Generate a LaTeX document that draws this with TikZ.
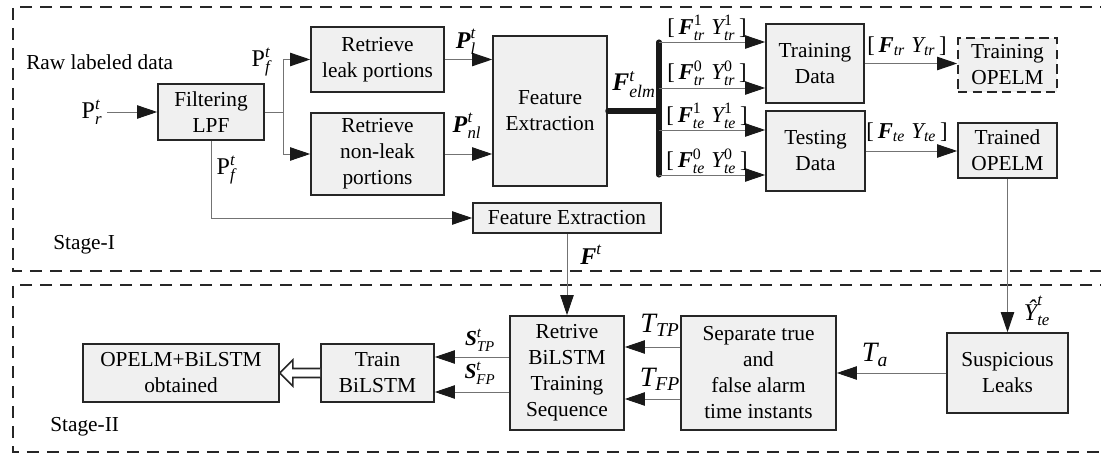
\documentclass[tikz,border=0pt]{standalone}
\usepackage{amsmath}
\usepackage{fontspec}
\setmainfont{Liberation Serif}
\usetikzlibrary{arrows.meta,calc}
\newcommand\ti[1]{\textit{#1}}
\newcommand\mb[1]{\textbf{\textit{#1}}}
\newcommand\fs{\fontsize{16}{19.5}\selectfont}
\newcommand\lfs{\fontsize{18}{20}\selectfont}
\newcommand\Lfs{\fontsize{21}{23}\selectfont}
\tikzset{
  box/.style={draw=black!85, line width=1.2pt, fill=black!6, align=center, inner sep=0pt, font=\fs},
  dbox/.style={box, dashed, dash pattern=on 7pt off 4pt},
  conn/.style={draw=black!55, line width=0.7pt},
  arr/.style={conn, -{Triangle[length=15pt,width=10pt,color=black!90]}},
  lab/.style={inner sep=0pt, font=\lfs},
  txt/.style={inner sep=0pt, font=\fs},
  stage/.style={draw=black!85, line width=1.1pt, dash pattern=on 9pt off 6pt},
}
\begin{document}
\begin{tikzpicture}[x=0.75pt,y=-0.75pt]
\useasboundingbox (0,0) rectangle (1101,456);
% stage frames
\draw[stage] (1112,7) -- (13,7) -- (13,271) -- (1112,271);
\draw[stage] (1112,285) -- (13,285) -- (13,452) -- (1112,452);
\node[txt, anchor=west] (raw) at (26,62) {Raw labeled data};
\node[txt, anchor=west] (s1) at (53,245) {Stage-I};
\node[txt, anchor=west] (s2) at (50,427) {Stage-II};
% boxes
\node[box, minimum width=79.5pt, minimum height=42pt] (lpf) at (211,112) {Filtering\\LPF};
\node[box, minimum width=99.75pt, minimum height=48.75pt] (leak) at (377.5,59.5) {Retrieve\\leak portions};
\node[box, minimum width=99.75pt, minimum height=61.5pt] (nonleak) at (377.5,154) {Retrieve\\non-leak\\portions};
\node[box, minimum width=85.5pt, minimum height=112.5pt] (fe) at (550,111) {Feature\\Extraction};
\node[box, minimum width=73.5pt, minimum height=59.25pt] (trd) at (815,63.5) {Training\\Data};
\node[box, minimum width=74.25pt, minimum height=60pt] (ted) at (815.5,151) {Testing\\Data};
\node[dbox, minimum width=74.25pt, minimum height=40.5pt] (topelm) at (1007.5,65) {Training\\OPELM};
\node[box, minimum width=74.25pt, minimum height=41.25pt] (tdopelm) at (1007.5,150.5) {Trained\\OPELM};
\node[box, minimum width=141pt, minimum height=22.5pt] (fe2) at (567,218) {Feature Extraction};
\node[box, minimum width=90.75pt, minimum height=60pt] (susp) at (1007.5,373) {Suspicious\\Leaks};
\node[box, minimum width=116.25pt, minimum height=85.5pt] (sep) at (758.5,373) {Separate true\\and\\false alarm\\time instants};
\node[box, minimum width=85.5pt, minimum height=85.5pt] (retr) at (567,373) {Retrive\\BiLSTM\\Training\\Sequence};
\node[box, minimum width=84.75pt, minimum height=43.5pt] (train) at (377.5,373) {Train\\BiLSTM};
\node[box, minimum width=147pt, minimum height=43.5pt] (final) at (181,373) {OPELM+BiLSTM\\obtained};
% connectors stage I
\coordinate (pin) at (107,112);
\draw[arr] (pin) -- (lpf.west);
\coordinate (j) at (283,112);
\draw[conn] (lpf.east) -- (j);
\draw[arr] (j) |- (leak.west);
\draw[arr] (j) |- (nonleak.west);
\draw[arr] (leak.east) -- (leak.east -| fe.west);
\draw[arr] (nonleak.east) -- (nonleak.east -| fe.west);
\draw[arr] (lpf.south) |- (fe2.west);
\coordinate (bus) at (659,111);
\coordinate (b1) at (659,42);
\coordinate (b2) at (659,88);
\coordinate (b3) at (659,130);
\coordinate (b4) at (659,175);
\draw[line width=3.8pt, black!90, line cap=round] (fe.east) -- (bus);
\draw[line width=3.8pt, black!90, line cap=round] (b1) -- (b4);
\draw[arr] (b1) -- (b1 -| trd.west);
\draw[arr] (b2) -- (b2 -| trd.west);
\draw[arr] (b3) -- (b3 -| ted.west);
\draw[arr] (b4) -- (b4 -| ted.west);
\draw[arr] (trd.east) -- (trd.east -| topelm.west);
\draw[arr] (ted.east) -- (ted.east -| tdopelm.west);
% stage II
\draw[arr] (tdopelm.south) -- (susp.north);
\draw[arr] (fe2.south) -- (retr.north);
\draw[arr] (susp.west) -- (sep.east);
\draw[arr] ($(sep.west)+(0,-26)$) -- ($(retr.east)+(0,-26)$);
\draw[arr] ($(sep.west)+(0,26)$) -- ($(retr.east)+(0,26)$);
\draw[arr] ($(retr.west)+(0,-16)$) -- ($(train.east)+(0,-16)$);
\draw[arr] ($(retr.west)+(0,19)$) -- ($(train.east)+(0,19)$);
\draw[line width=1.2pt, draw=black!85, fill=white, line join=miter]
  ($(train.west)+(0,-4.5)$) -- ($(final.east)+(13,-4.5)$) -- ($(final.east)+(13,-13)$)
  -- (final.east) -- ($(final.east)+(13,13)$) -- ($(final.east)+(13,4.5)$) -- ($(train.west)+(0,4.5)$);
% labels
\node[lab] (lpr) at (92,112) {$\text{P}^{\ti{t}}_{\ti{r}}$};
\node[lab] (lpf1) at (261,62) {$\text{P}^{\ti{t}}_{\ti{f}}$};
\node[lab] (lpf2) at (226,170) {$\text{P}^{\ti{t}}_{\ti{f}}$};
\node[lab] (lpl) at (466,42) {$\mb{P}^{\ti{t}}_{\ti{l}}$};
\node[lab] (lpnl) at (467,126) {$\mb{P}^{\ti{t}}_{\ti{nl}}$};
\node[lab, font=\fontsize{19}{21}\selectfont] (lfelm) at (634,85) {$\mb{F}^{\ti{t}}_{\ti{elm}}$};
\node[lab, font=\fontsize{17}{19}\selectfont] (l1) at (707,28) {$\text{[}\,\mb{F}^{\text{1}}_{\ti{tr}}\;\ti{Y}^{\text{1}}_{\ti{tr}}\,\text{]}$};
\node[lab, font=\fontsize{17}{19}\selectfont] (l2) at (707,73) {$\text{[}\,\mb{F}^{\text{0}}_{\ti{tr}}\;\ti{Y}^{\text{0}}_{\ti{tr}}\,\text{]}$};
\node[lab, font=\fontsize{17}{19}\selectfont] (l3) at (707,116) {$\text{[}\,\mb{F}^{\text{1}}_{\ti{te}}\;\ti{Y}^{\text{1}}_{\ti{te}}\,\text{]}$};
\node[lab, font=\fontsize{17}{19}\selectfont] (l4) at (707,161) {$\text{[}\,\mb{F}^{\text{0}}_{\ti{te}}\;\ti{Y}^{\text{0}}_{\ti{te}}\,\text{]}$};
\node[lab, font=\fontsize{17}{19}\selectfont] (ltr) at (907,46) {$\text{[}\,\mb{F}_{\ti{tr}}\;\ti{Y}_{\ti{tr}}\,\text{]}$};
\node[lab, font=\fontsize{17}{19}\selectfont] (lte) at (907,132) {$\text{[}\,\mb{F}_{\ti{te}}\;\ti{Y}_{\ti{te}}\,\text{]}$};
\node[lab] (lft) at (591,255) {$\mb{F}^{\ti{t}}$};
\node[lab] (lyhat) at (1037,311) {$\ti{\^{Y}}^{\ti{t}}_{\ti{te}}$};
\node[lab, font=\Lfs] (lta) at (875,355) {$\ti{T}_{\ti{a}}$};
\node[lab, font=\Lfs] (lttp) at (660,325) {$\ti{T}_{\ti{TP}}$};
\node[lab, font=\Lfs] (ltfp) at (660,379) {$\ti{T}_{\ti{FP}}$};
\node[lab, font=\fontsize{16}{18}\selectfont] (lstp) at (480,340) {$\mb{S}^{\ti{t}}_{\ti{TP}}$};
\node[lab, font=\fontsize{16}{18}\selectfont] (lsfp) at (480,373) {$\mb{S}^{\ti{t}}_{\ti{FP}}$};
\end{tikzpicture}
\end{document}
